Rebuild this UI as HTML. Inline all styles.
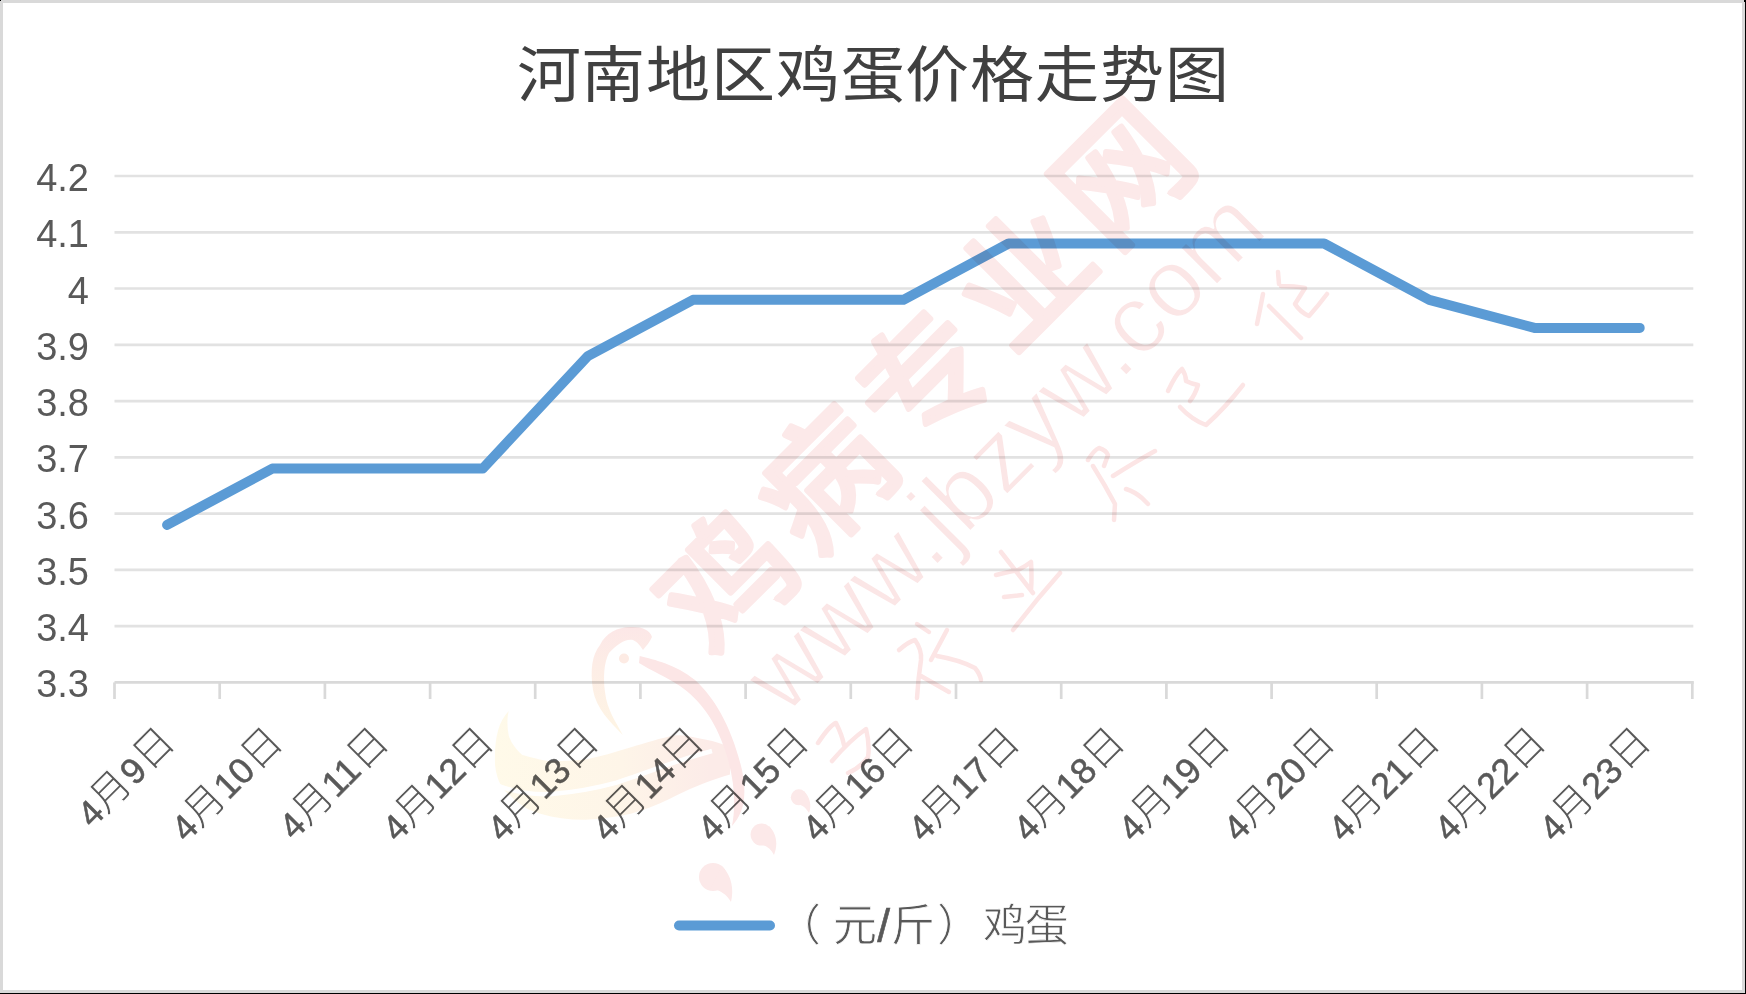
<!DOCTYPE html>
<html lang="zh-CN"><head><meta charset="utf-8"><style>
html,body{margin:0;padding:0;background:#fff;}
#c{position:relative;width:1746px;height:994px;overflow:hidden;background:#fff;font-family:"Liberation Sans",sans-serif;}
#frame{position:absolute;left:0;top:0;width:1739px;height:987px;border:3px solid #d9d9d9;}
#bk1{position:absolute;left:1745px;top:0;width:1px;height:994px;background:#000;}
#bk2{position:absolute;left:0;top:993px;width:1746px;height:1px;background:#000;}
#title{position:absolute;left:0;width:1746px;top:40px;transform:scaleY(0.955);transform-origin:50% 10px;text-align:center;font-size:64px;line-height:76px;letter-spacing:0.8px;color:#404040;font-family:"Liberation Serif",serif;font-weight:500;}
.yl{position:absolute;left:0.0px;width:89px;text-align:right;font-size:38px;line-height:44px;color:#595959;}
.xl{position:absolute;width:300px;text-align:right;font-size:36px;line-height:44px;letter-spacing:0px;color:#595959;-webkit-text-stroke:0.5px #595959;transform:rotate(-45deg);transform-origin:100% 50%;white-space:nowrap;}
.xl i{font-size:40px;font-style:normal;font-weight:300;-webkit-text-stroke:1px #fff;}
#leg span{position:absolute;width:100px;text-align:center;font-size:44px;line-height:60px;top:894px;color:#595959;white-space:nowrap;font-weight:300;-webkit-text-stroke:0.8px #fff;}
svg{position:absolute;left:0;top:0;}
</style></head><body><div id="c">
<div id="frame"></div><div id="bk1"></div><div id="bk2"></div><div style="position:absolute;left:0;top:0;width:1px;height:1px;background:#000"></div><div style="position:absolute;left:1744px;top:0;width:2px;height:2px;background:#000"></div>
<svg width="1746" height="994">
<g stroke="#e2e2e2" stroke-width="2.7"><line x1="114.5" y1="176.0" x2="1693.3" y2="176.0"/><line x1="114.5" y1="232.3" x2="1693.3" y2="232.3"/><line x1="114.5" y1="288.5" x2="1693.3" y2="288.5"/><line x1="114.5" y1="344.8" x2="1693.3" y2="344.8"/><line x1="114.5" y1="401.1" x2="1693.3" y2="401.1"/><line x1="114.5" y1="457.3" x2="1693.3" y2="457.3"/><line x1="114.5" y1="513.6" x2="1693.3" y2="513.6"/><line x1="114.5" y1="569.9" x2="1693.3" y2="569.9"/><line x1="114.5" y1="626.1" x2="1693.3" y2="626.1"/></g><g stroke="#d9d9d9" stroke-width="2.7"><line x1="114.5" y1="682.4" x2="1693.8" y2="682.4"/><line x1="114.5" y1="682.4" x2="114.5" y2="699"/><line x1="219.7" y1="682.4" x2="219.7" y2="699"/><line x1="324.9" y1="682.4" x2="324.9" y2="699"/><line x1="430.1" y1="682.4" x2="430.1" y2="699"/><line x1="535.2" y1="682.4" x2="535.2" y2="699"/><line x1="640.4" y1="682.4" x2="640.4" y2="699"/><line x1="745.6" y1="682.4" x2="745.6" y2="699"/><line x1="850.8" y1="682.4" x2="850.8" y2="699"/><line x1="956.0" y1="682.4" x2="956.0" y2="699"/><line x1="1061.2" y1="682.4" x2="1061.2" y2="699"/><line x1="1166.4" y1="682.4" x2="1166.4" y2="699"/><line x1="1271.6" y1="682.4" x2="1271.6" y2="699"/><line x1="1376.7" y1="682.4" x2="1376.7" y2="699"/><line x1="1481.9" y1="682.4" x2="1481.9" y2="699"/><line x1="1587.1" y1="682.4" x2="1587.1" y2="699"/><line x1="1692.3" y1="682.4" x2="1692.3" y2="699"/></g>
<polyline points="167.1,524.9 272.3,468.6 377.5,468.6 482.7,468.6 587.8,356.1 693.0,299.8 798.2,299.8 903.4,299.8 1008.6,243.5 1113.8,243.5 1219.0,243.5 1324.1,243.5 1429.3,299.8 1534.5,327.9 1639.7,327.9" fill="none" stroke="#5b9bd5" stroke-width="10" stroke-linecap="round" stroke-linejoin="round"/>
<line x1="679" y1="925.5" x2="770" y2="925.5" stroke="#5b9bd5" stroke-width="10" stroke-linecap="round"/>
</svg>
<div id="title">河南地区鸡蛋价格走势图</div>
<div class="yl" style="top:156.0px">4.2</div><div class="yl" style="top:212.3px">4.1</div><div class="yl" style="top:268.5px">4</div><div class="yl" style="top:324.8px">3.9</div><div class="yl" style="top:381.1px">3.8</div><div class="yl" style="top:437.3px">3.7</div><div class="yl" style="top:493.6px">3.6</div><div class="yl" style="top:549.9px">3.5</div><div class="yl" style="top:606.1px">3.4</div><div class="yl" style="top:662.4px">3.3</div>
<div class="xl" style="left:-131.9px;top:712.0px">4<i>月</i>9<i>日</i></div><div class="xl" style="left:-23.7px;top:712.0px">4<i>月</i>10<i>日</i></div><div class="xl" style="left:81.5px;top:712.0px">4<i>月</i>11<i>日</i></div><div class="xl" style="left:186.7px;top:712.0px">4<i>月</i>12<i>日</i></div><div class="xl" style="left:291.8px;top:712.0px">4<i>月</i>13<i>日</i></div><div class="xl" style="left:397.0px;top:712.0px">4<i>月</i>14<i>日</i></div><div class="xl" style="left:502.2px;top:712.0px">4<i>月</i>15<i>日</i></div><div class="xl" style="left:607.4px;top:712.0px">4<i>月</i>16<i>日</i></div><div class="xl" style="left:712.6px;top:712.0px">4<i>月</i>17<i>日</i></div><div class="xl" style="left:817.8px;top:712.0px">4<i>月</i>18<i>日</i></div><div class="xl" style="left:923.0px;top:712.0px">4<i>月</i>19<i>日</i></div><div class="xl" style="left:1028.1px;top:712.0px">4<i>月</i>20<i>日</i></div><div class="xl" style="left:1133.3px;top:712.0px">4<i>月</i>21<i>日</i></div><div class="xl" style="left:1238.5px;top:712.0px">4<i>月</i>22<i>日</i></div><div class="xl" style="left:1343.7px;top:712.0px">4<i>月</i>23<i>日</i></div>
<svg width="1746" height="994" style="mix-blend-mode:multiply"><g fill="#fce9e9" stroke="#fce9e9" stroke-width="2" stroke-linejoin="round" font-family="Liberation Sans, sans-serif" font-weight="700" font-size="129" text-anchor="middle" dominant-baseline="central">
<text transform="translate(728,583) rotate(-45)">鸡</text>
<text transform="translate(827,481) rotate(-45)">病</text>
<text transform="translate(926,380) rotate(-45)">专</text>
<text transform="translate(1025,278) rotate(-45)">业</text>
<text transform="translate(1124,176) rotate(-45)">网</text>
</g>
<g font-family="Liberation Sans, sans-serif" font-size="98">
<text transform="rotate(-45)" x="48" y="1062" fill="#fbe6e6" stroke="#fff" stroke-width="2" style="paint-order:normal">www.jbzyw.com</text>
</g>
<g fill="none" stroke="#fce5e5" stroke-width="4.5" stroke-linecap="round" stroke-linejoin="round">
<path d="M818,743 Q830,725 836,723 Q842,735 844,745 M832,761 Q850,740 866,729 Q870,745 868,757 Q860,768 848,773"/>
<path d="M917,624 L929,632 M899,650 Q908,642 915,640 Q922,650 921,660 Q918,680 917,698 M931,660 L947,630 M937,656 Q960,660 975,668 Q980,674 981,680 M921,676 L949,692"/>
<path d="M1001,552 L1033,593 M996,575 Q1008,572 1018,570 Q1026,566 1031,562 Q1032,578 1031,590 M1004,597 L1022,595 M1060,573 Q1036,600 1013,630"/>
<path d="M1088,460 Q1094,450 1099,448 Q1106,450 1108,455 L1104,466 M1093,466 Q1105,485 1115,504 L1114,520 M1113,476 Q1135,462 1155,451 M1126,489 Q1135,492 1142,498 L1148,504"/>
<path d="M1168,391 Q1176,374 1182,369 Q1186,375 1186,381 Q1192,384 1198,385 Q1195,395 1190,401 M1180,407 Q1192,420 1206,425 Q1225,408 1243,385"/>
<path d="M1263,294 Q1260,310 1257,324 M1269,306 Q1285,322 1301,338 M1278,272 L1279,284 M1281,286 Q1295,286 1305,288 Q1300,296 1295,304 Q1300,312 1309,316 Q1318,306 1327,294"/>
</g>
<!-- logo -->
<defs><linearGradient id="sw" x1="490" y1="0" x2="710" y2="0" gradientUnits="userSpaceOnUse"><stop offset="0" stop-color="#fffae9"/><stop offset="0.6" stop-color="#fef5e8"/><stop offset="1" stop-color="#fcebe8"/></linearGradient></defs>
<path fill="url(#sw)" d="M508.7,711.1 C498,722 494,740 495.1,765.5 C497,782 503,790 510.2,795.6 C520,806 530,811 540.4,813.7 C555,818 570,820 585.6,819.8 C600,819 615,817 630.9,813.7 C648,809 662,803 676.2,795.6 C695,786 712,780 730,774.5 L730,747.3 C722,744 714,741 706.4,739.8 C695,738 686,735 676.2,735.3 C660,738 646,743 631,747.3 C615,752 600,757 585.6,759.4 C570,761 558,761 547.9,760.9 C536,759 528,756 522.3,754.9 C514,748 510,740 508.7,735.3 C507,727 507,718 508.7,711.1 Z"/>
<path fill="none" stroke="#fff" stroke-width="4.5" d="M499,786 C515,792 535,795 552.5,794 C575,792 597,788 616.6,782.6 C630,778 642,774 653.3,769.8 C672,763 690,757 712,751"/>



<defs><linearGradient id="hd" x1="0" y1="627" x2="0" y2="735" gradientUnits="userSpaceOnUse"><stop offset="0" stop-color="#fce7e7"/><stop offset="0.35" stop-color="#fdede6"/><stop offset="1" stop-color="#fef5e4"/></linearGradient></defs>
<path fill="url(#hd)" d="M622.8,735 C610,722 596,708 593,690 C590,670 592,655 600,645 C606,632 620,626 633,627 C642,627 650,630 652,637 C650,642 646,646 643,650 C641,647 638,642 633,640 C626,638 616,645 609,653 C604,662 603,678 605,692 C607,710 616,722 622.8,735 Z"/>
<circle cx="624" cy="658.5" r="5" fill="#fdebe4"/>
<path fill="#fce6e6" d="M639.7,656 C655,660 675,664 695,680 C715,698 732,728 742,770 C748,800 742,815 732,826 C736,805 735,780 725,750 C715,720 700,700 680,686 C665,676 650,670 639,663 Z"/>
<g fill="#fce9e9">
<circle cx="713" cy="877" r="14"/><path d="M722,866 C732,876 734,890 731,902 C727,895 720,889 710,889 Z"/>
<circle cx="761.6" cy="834.6" r="11"/><path d="M769,826 C777,834 778,845 774,855 C771,849 766,845 758,844 Z"/>
<circle cx="798.8" cy="797.3" r="8"/><path d="M804,791 C810,797 812,806 809,813 C806,808 803,805 797,804 Z"/>
</g>
</svg>
<div id="leg"><span style="left:749.2px;top:896px">（</span><span style="left:805.0px;top:896px">元</span><span style="left:833.6px;top:896px;font-size:46px;font-weight:400;-webkit-text-stroke:0.6px #595959">/</span><span style="left:862.8px;top:896px">斤</span><span style="left:908.9px;top:896px">）</span><span style="left:955.1px;top:896px">鸡</span><span style="left:996.7px;top:896px">蛋</span></div>
</div></body></html>
